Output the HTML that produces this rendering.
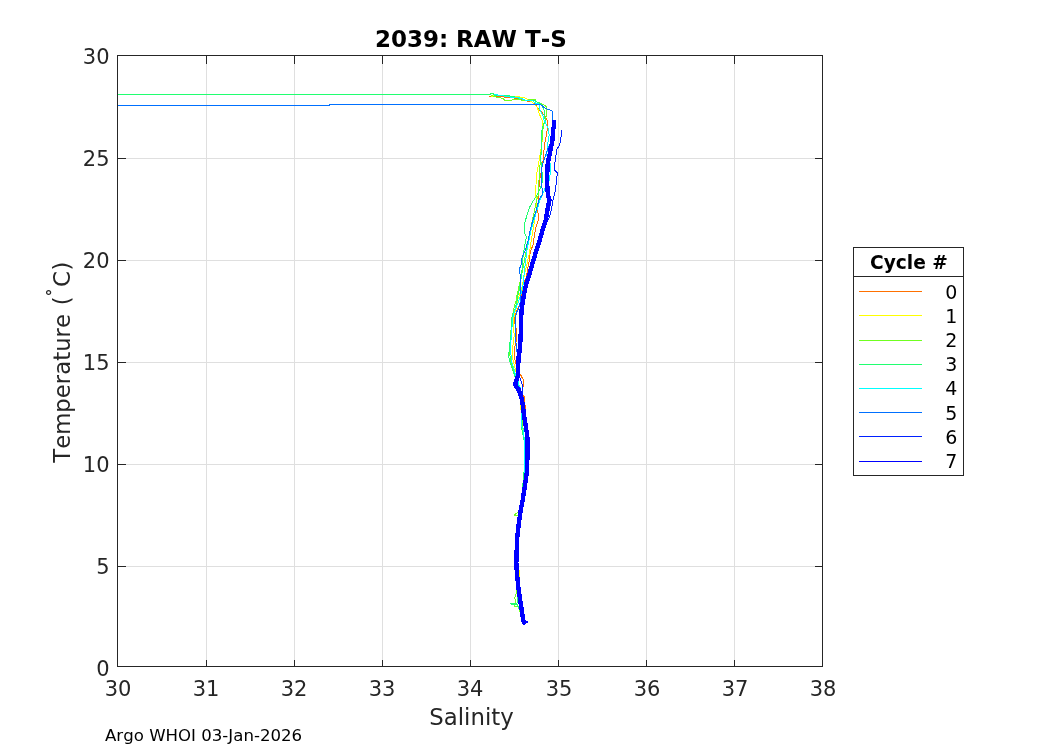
<!DOCTYPE html>
<html><head><meta charset="utf-8"><title>2039: RAW T-S</title>
<style>
html,body{margin:0;padding:0;background:#fff;width:1050px;height:750px;overflow:hidden}
svg{position:absolute;left:0;top:0;display:block;will-change:transform}
text{font-family:"DejaVu Sans","Liberation Sans",sans-serif;font-kerning:none;font-feature-settings:"kern" 0}
</style></head><body>
<svg width="1050" height="750" viewBox="0 0 1050 750">
<rect x="0" y="0" width="1050" height="750" fill="#fff"/>
<!-- grid -->
<g stroke="#dfdfdf" stroke-width="1" shape-rendering="crispEdges">
<line x1="206.5" y1="56" x2="206.5" y2="666"/>
<line x1="294.5" y1="56" x2="294.5" y2="666"/>
<line x1="382.5" y1="56" x2="382.5" y2="666"/>
<line x1="470.5" y1="56" x2="470.5" y2="666"/>
<line x1="558.5" y1="56" x2="558.5" y2="666"/>
<line x1="646.5" y1="56" x2="646.5" y2="666"/>
<line x1="734.5" y1="56" x2="734.5" y2="666"/>
<line x1="118" y1="158.5" x2="822" y2="158.5"/>
<line x1="118" y1="260.5" x2="822" y2="260.5"/>
<line x1="118" y1="362.5" x2="822" y2="362.5"/>
<line x1="118" y1="464.5" x2="822" y2="464.5"/>
<line x1="118" y1="566.5" x2="822" y2="566.5"/>
</g>
<!-- DATA -->
<g fill="none" stroke-linejoin="round" stroke-linecap="round" shape-rendering="crispEdges">
<polyline points="489,96.5 500.5,96.5 507,97.5 511.7,97.5 520,99 529,101.5 531.4,101.5 536.2,105.5 537.8,108 538.6,109.5 541.8,111.5 543.4,114.5 544.2,115 546.2,118.5 547.4,120.5 547.6,125 547.2,130 546.4,135 545.6,140 544.4,145 544,150 543.6,155 543.2,160 542.4,165 541.6,170 539.6,180 538.8,190 538.4,200 537.4,210 538.6,215 538.2,220 536.6,225 535.4,230 534.2,237 533,245 531,250 529.8,255 529.4,260 528.4,265 527.2,272 526,278 523.5,283 522.3,287 522.3,290 521.6,297 521.4,300 519.5,304 518.3,308 517.1,310 515.7,314 514.6,316 514,320 515.5,326 516.6,330 517,338 515.5,344 514.2,350 514.2,357 515.4,362 516.2,365 518,370 520.2,374 522.2,378 523.4,380 523.4,385 522.6,390 522.6,395 524.4,397 525,405 525.5,415 526.5,425 527,440 527,460 525,485 521,508 518,530 516.5,560 518,585 521,605" stroke="#ff7000" stroke-width="1"/>
<polyline points="492,96.5 494.3,95.5 495.7,95.5 505,96 515.2,96.5 519.5,96.5 520.5,97.5 523.8,97.5 527.6,99.5 532,102 535.4,105.5 537,107 538.2,110 539,113 540.2,116 541.4,118.5 542.2,121 543,124 542.8,130 542.4,140 541.6,145 540.8,150 540,155 539.2,160 538.4,165 536.4,175 536,185 535.6,195 536.6,200 536.6,207 535.4,215 533.8,225 532.2,235 530.6,245 529,255 527.8,260 526.8,265 525.5,270 524,277 522.5,285 520.5,292 518.6,297 517.4,302 516.2,308 515,312 514.1,316 513.5,320 513.8,330 514.2,335 513,345 512.2,355 513.4,362 515,368 517,375 520,390 521,410 522,425 524,440 525,460 523,490 520,512 518,535 517,560 519.5,572 518,590 521,608" stroke="#ffff00" stroke-width="1"/>
<polyline points="491,95 494.3,96.5 498,97.5 501.4,98 502.9,98.5 505.2,100.5 511.4,100.5 512.9,99.5 517.6,99.5 524.3,100.5 527.6,100 534.6,99 535.6,100.5 537,102 541,103.5 545,105.5 546.6,107 546.6,116 545.4,117.5 545.4,121 543.6,125 542.8,130 542,140 541.2,150 540.4,160 539.6,170 539.2,175 538.8,185 538.4,195 536.6,200 535,208 533.5,215 532,222 530.5,230 529,238 527.5,245 526,252 524.5,260 523,268 521.5,276 519.3,285 518.3,290 517.1,295 516.2,300 514.6,305 513.6,310 512.5,315 511.5,320 511,330 510,345 509.5,352 510.5,360 512,366 514,372 516,378 519,385 521,395 522,420 525,445 528,460 524,485 521,510 514,515 519,515.5 517,540 516,565 517,585 516.4,593 514.8,598 516,603 514,606 518,606.5 520,612" stroke="#70ff20" stroke-width="1"/>
<polyline points="117,94.5 490,94.5 490,93.5 493,93.5 494.3,95 501,95.5 507.6,95.5 512.4,96.5 514.8,97 518,98 523.8,99.5 527.6,101 529.4,100 533.8,100 538.2,102.5 541.8,104.5 542.2,107 543.4,109 544.6,110.5 544.6,118 545.4,120 543.2,125 542,130 541.6,140 541.2,150 540.8,160 541.5,168 542.8,178 541.6,185 537.2,195 533.8,200 529.8,207 527,215 525,222 524.2,230 525,234 526.5,237 524.8,245 523.2,255 522.4,265 521.6,275 520.4,283 519.2,290 518,295 517.2,300 516,305 514.8,310 512.8,315 511.5,320 511,325 511,335 509.8,343 509,352 508.6,355 509.4,360 511,365 512.6,370 514.6,375 515.8,380 518.2,383 520,390 521,400 521,412 521,425 524,440 525,460 522,495 518,525 516,560 517,590 517,603 510.4,604 517,604.5 520,610" stroke="#20ff70" stroke-width="1"/>
<polyline points="494.8,94.5 497.6,94.5 498,95.5 501,95.5 507.6,96.5 512.4,97.5 517,97.5 521.9,98.5 522.9,99.5 527.6,100.5 533,101 535.4,103 538.6,104 539.4,106 540.2,111 541.8,113.5 542.6,115 543.4,117.5 543.8,120 545.4,122 546.2,125 548,128 549.2,135 548.4,140 547.6,145 547.2,150 546.8,155 549,160 550.8,165 550.8,170 550,175 549.6,180 546,186 544.4,190 540,200 537,210 534,220 531,230 529,240 527,250 526.4,255 525.6,262 524.4,270 523.6,280 522.8,287 521.6,292 519,300 517.1,305 515,310 513.2,316 512.5,320 512.2,325 511.4,335 510.6,345 511,355 511.8,362 513.8,368 515.4,375 518,378 518.2,383 520.6,388 521.5,395 521.2,412 521.2,425 523.6,430 524,437 524.4,445 525,455 524,480 521,505 518,528 516,560 518,588 521,606" stroke="#00ffff" stroke-width="1"/>
<polyline points="117,105.5 329,105.5 329,104.5 540.2,104.5 542.2,105.5 543.4,107 545.8,108.5 549,109.5 551.4,110.5 552.6,111.5 552.6,121 553.5,125 552,135 550,145 548,148 545.6,155 544,160 542.4,165 541.2,170 541.2,175 541.6,185 542.4,190 542,195 539,200 536.2,210 533,220 530.2,230 528.2,240 525.4,250 523,255 521.4,260 521,265 519.8,268 519.6,272 520.6,277 520.4,285 520,295 520,303 518.6,309 516.2,313 515.5,320 515.4,330 515.8,340 516.2,345 517,352 518,360 518,375 517,382 518,388 521,398 523,410 525,422 527,436 527,460 525,485 521,508 518,530 516.5,560 518,585 521,605 523.5,621" stroke="#0070ff" stroke-width="1"/>
<polyline points="561.6,130.4 561.6,135 560.8,138 559.6,145 557.6,148 556.4,150 556,155 555.2,160 554.8,165 554.4,170 557.6,173 556.4,180 555.6,190 553,200 552.2,205 551.2,210 549.8,216 547,222 542.6,230 539.8,240 536.4,250 533.6,260 532,265 529.2,275 526,285 524.5,292 523,300 521.6,310 521,320 521,330 520.6,335 520.2,345 519.4,352 518.6,357 518.2,365 518,375 519.5,376 521,381 522.5,385 522.7,390 522,394 521.6,398 522.8,405 523.6,412 524.8,420 526,428 527.2,435 527.6,442 527.6,450 527.3,460 526.7,473 524.7,487 522.7,500 520.7,510 519.3,520 518,530 517.3,537 516.7,550 516.3,563 516.7,570 517.3,577 518.4,588 519.6,596 520.8,604 522,612 523.2,620 524,622.5" stroke="#0020ff" stroke-width="1"/>
<polyline points="554,121.6 554,125 553.2,130 552.8,135 552.4,140 551.6,145 550.4,150 549.6,155 548.4,160 547.6,165 547.2,175 547.2,185 548,195 549.4,200 547.4,210 545.8,220 542.6,230 539.8,240 536.4,250 533.6,260 532,265 529.2,275 526,285 524.5,292 523,300 521.6,310 521,320 521,330 520.6,335 520.2,345 519.4,352 518.6,357 518.2,365 518,375 516.6,380 515.2,383.5 516.2,387 519,390 521.6,398 522.8,405 523.6,412 524.8,420 526,428 527.2,435 527.6,442 527.6,450 527.3,460 526.7,473 524.7,487 522.7,500 520.7,510 519.3,520 518,530 517.3,537 516.7,550 516.3,563 516.7,570 517.3,577 518.4,588 519.6,596 520.8,604 522,612 523.2,620 524,622.5" stroke="#0000ff" stroke-width="4.4"/>
<polyline points="524,623 527.5,622" stroke="#0000ff" stroke-width="2"/>

</g>
<!-- axes box and ticks -->
<g stroke="#262626" stroke-width="1" shape-rendering="crispEdges" fill="none">
<rect x="117.5" y="55.5" width="705" height="611"/>
<path d="M206.5 666V660M294.5 666V660M382.5 666V660M470.5 666V660M558.5 666V660M646.5 666V660M734.5 666V660
M206.5 56V64M294.5 56V64M382.5 56V64M470.5 56V64M558.5 56V64M646.5 56V64M734.5 56V64
M118 158.5H126M118 260.5H126M118 362.5H126M118 464.5H126M118 566.5H126
M822 158.5H815M822 260.5H815M822 362.5H815M822 464.5H815M822 566.5H815"/>
</g>
<!-- tick labels -->
<g fill="#262626" font-size="21">
<g text-anchor="end">
<text x="109.6" y="63.9">30</text>
<text x="109.6" y="165.9">25</text>
<text x="109.6" y="267.9">20</text>
<text x="109.6" y="369.9">15</text>
<text x="109.6" y="471.9">10</text>
<text x="109.6" y="573.9">5</text>
<text x="109.6" y="675.9">0</text>
</g>
<g text-anchor="middle">
<text x="118" y="696.4">30</text>
<text x="206" y="696.4">31</text>
<text x="294" y="696.4">32</text>
<text x="382" y="696.4">33</text>
<text x="470" y="696.4">34</text>
<text x="559" y="696.4">35</text>
<text x="647" y="696.4">36</text>
<text x="735" y="696.4">37</text>
<text x="823" y="696.4">38</text>
</g>
</g>
<!-- labels -->
<text x="471.5" y="725" text-anchor="middle" font-size="22.8" fill="#262626">Salinity</text>
<text transform="translate(70,462.8) rotate(-90)" font-size="22.8" fill="#262626"><tspan x="0" y="0">Temperature</tspan><tspan x="157.6" y="0">(</tspan><tspan x="166.6" y="-12.4" font-size="15" font-weight="bold">°</tspan><tspan x="175.8" y="0">C</tspan><tspan x="192.3" y="0">)</tspan></text>
<text x="374.9" y="46.9" font-size="23" font-weight="bold" fill="#000">2039: RAW T-S</text>
<text x="105" y="740.7" font-size="16.6" fill="#000">Argo WHOI 03-Jan-2026</text>
<!-- legend -->
<g>
<rect x="853.5" y="247.5" width="110" height="228" fill="#fff" stroke="#262626" stroke-width="1" shape-rendering="crispEdges"/>
<line x1="853.5" y1="276.5" x2="963.5" y2="276.5" stroke="#262626" stroke-width="1" shape-rendering="crispEdges"/>
<text x="909" y="268.7" text-anchor="middle" font-size="18.6" font-weight="bold" fill="#000">Cycle #</text>
<g stroke-width="1" shape-rendering="crispEdges">
<line x1="859" y1="291.5" x2="922" y2="291.5" stroke="#ff7000"/>
<line x1="859" y1="315.5" x2="922" y2="315.5" stroke="#ffff00"/>
<line x1="859" y1="340.5" x2="922" y2="340.5" stroke="#70ff20"/>
<line x1="859" y1="364.5" x2="922" y2="364.5" stroke="#20ff70"/>
<line x1="859" y1="388.5" x2="922" y2="388.5" stroke="#00ffff"/>
<line x1="859" y1="412.5" x2="922" y2="412.5" stroke="#0070ff"/>
<line x1="859" y1="436.5" x2="922" y2="436.5" stroke="#0020ff"/>
<line x1="859" y1="461.5" x2="922" y2="461.5" stroke="#0000ff"/>
</g>
<g font-size="19" fill="#000" text-anchor="end">
<text x="957.4" y="298.6">0</text>
<text x="957.4" y="323">1</text>
<text x="957.4" y="346.7">2</text>
<text x="957.4" y="370.7">3</text>
<text x="957.4" y="394.7">4</text>
<text x="957.4" y="419.7">5</text>
<text x="957.4" y="444">6</text>
<text x="957.4" y="468">7</text>
</g>
</g>
</svg>
</body></html>
